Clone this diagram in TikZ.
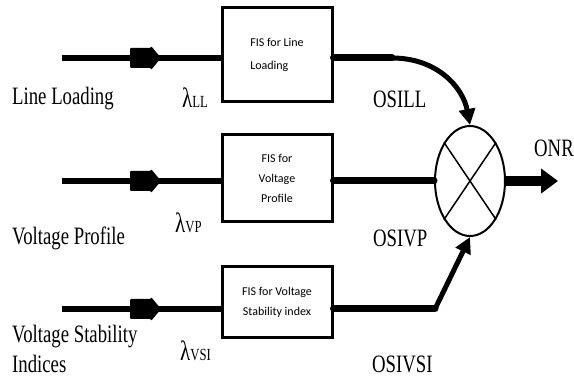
\documentclass[tikz,border=0pt]{standalone}
\usepackage{graphicx}
\usepackage{fontspec}
\setmainfont{Liberation Serif}
\newfontfamily\fisfont{Carlito}
\usetikzlibrary{arrows.meta,shapes.geometric}
% condensed serif lettering
\newcommand{\narrow}[1]{\scalebox{0.75}[1]{#1}}

\begin{document}
\begin{tikzpicture}[x=1pt,y=-1pt,
  fisbox/.style={draw,line width=3pt,minimum width=110pt,inner sep=0pt,
    font=\fisfont\fontsize{12}{20}\selectfont},
  sig/.style={inner sep=0pt,anchor=base west,font=\fontsize{25}{31}\selectfont},
  feed/.style={line width=6pt},
  feedout/.style={line width=7pt,line cap=round},
  link/.style={line width=5pt,-{Triangle[length=16pt,width=16pt]}},
  inmark/.pic={\fill[rounded corners=1pt] (-15,-10) -- (6,-10) -- (6,-12) -- (16,0)
      -- (6,12) -- (6,10) -- (-15,10) -- cycle;}
]
\fill[white] (0,0) rectangle (574,385);
\useasboundingbox (0,0) rectangle (574,385);

% fuzzy inference blocks
\node[fisbox,minimum height=94pt,align=left,font=\fisfont\fontsize{12}{23}\selectfont]
  (b1) at (277,55) {FIS for Line\\Loading};
\node[fisbox,minimum height=87pt,align=center] (b2) at (277,178.5) {FIS for\\Voltage\\Profile};
\node[fisbox,minimum height=71pt,align=center] (b3) at (277,302.5) {FIS for Voltage\\Stability index};

% multiplier
\node[draw,ellipse,line width=2pt,minimum width=70pt,minimum height=110pt,inner sep=0pt]
  (e) at (470,181) {};
\draw[line width=1.5pt] (e.56) -- (e.236) (e.124) -- (e.304);

% inputs
\coordinate (in1) at (62,58);
\coordinate (in2) at (62,181);
\coordinate (in3) at (62,309);
\draw[feed] (in1) -- (in1 -| b1.west);
\draw[feed] (in2) -- (in2 -| b2.west);
\draw[feed] (in3) -- (in3 -| b3.west);
\pic at (145,58) {inmark};
\pic at (145,181) {inmark};
\pic at (145,309) {inmark};

% outputs into the multiplier
\coordinate (bend1) at (392,58);
\coordinate (k3) at (435,309);
\draw[feedout] (b1.east |- in1) -- (bend1);
\draw[link] (bend1) .. controls (438,58) and (463,88) .. (e.north);
\draw[feedout] (b2.east |- in2) -- (e.west);
\draw[feedout] (b3.east |- in3) -- (k3);
\draw[link] (k3) -- (e.south);

% result
\coordinate (out) at (558,181);
\draw[line width=10pt,-{Triangle[length=17pt,width=24pt]}] (e.east) -- (out);

% labels
\node[sig] (l1) at (12,105) {\narrow{Line Loading}};
\node[sig] (l2) at (12,245) {\narrow{Voltage Profile}};
\node[sig] (l3) at (12,342) {\narrow{\begin{tabular}[t]{@{}l@{}}Voltage Stability\\Indices\end{tabular}}};
\node[sig] (s1) at (373,108) {\narrow{OSILL}};
\node[sig] (s2) at (373,247) {\narrow{OSIVP}};
\node[sig] (s3) at (372,373) {\narrow{OSIVSI}};
\node[sig] (onr) at (534,157) {\narrow{ONR}};
\node[sig] (lam1) at (182,108) {\narrow{\fontsize{28}{28}\selectfont λ\fontsize{17}{17}\selectfont LL}};
\node[sig] (lam2) at (175,233) {\narrow{\fontsize{28}{28}\selectfont λ\fontsize{17}{17}\selectfont VP}};
\node[sig] (lam3) at (180,360) {\narrow{\fontsize{28}{28}\selectfont λ\fontsize{17}{17}\selectfont VSI}};
\end{tikzpicture}
\end{document}
